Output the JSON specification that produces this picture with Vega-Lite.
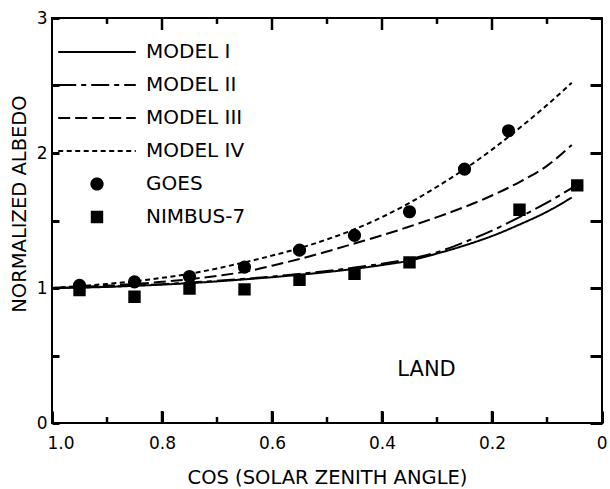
{
  "$schema": "https://vega.github.io/schema/vega-lite/v6.json",
  "width": 550,
  "height": 405,
  "autosize": {"type": "none"},
  "padding": {"left": 52, "top": 18, "right": 8, "bottom": 66},
  "background": "white",
  "config": {
    "view": {"stroke": "black", "strokeWidth": 2},
    "font": "DejaVu Sans",
    "axis": {
      "grid": false,
      "domain": false,
      "ticks": true,
      "tickColor": "#000000",
      "tickOpacity": 1,
      "tickWidth": 3,
      "zindex": 2,
      "labelColor": "black",
      "titleColor": "black",
      "labelFont": "DejaVu Sans",
      "titleFont": "DejaVu Sans",
      "labelFontSize": 17,
      "titleFontSize": 19.5,
      "titleFontWeight": "normal",
      "labelOverlap": false
    }
  },
  "datasets": {
    "models": [
      {"series": "MODEL I", "x": 1.0, "y": 1.0},
      {"series": "MODEL I", "x": 0.95, "y": 1.003},
      {"series": "MODEL I", "x": 0.9, "y": 1.008},
      {"series": "MODEL I", "x": 0.85, "y": 1.016},
      {"series": "MODEL I", "x": 0.8, "y": 1.025},
      {"series": "MODEL I", "x": 0.75, "y": 1.036},
      {"series": "MODEL I", "x": 0.7, "y": 1.049},
      {"series": "MODEL I", "x": 0.65, "y": 1.064},
      {"series": "MODEL I", "x": 0.6, "y": 1.08},
      {"series": "MODEL I", "x": 0.55, "y": 1.098},
      {"series": "MODEL I", "x": 0.5, "y": 1.118},
      {"series": "MODEL I", "x": 0.45, "y": 1.142},
      {"series": "MODEL I", "x": 0.4, "y": 1.17},
      {"series": "MODEL I", "x": 0.35, "y": 1.203},
      {"series": "MODEL I", "x": 0.3, "y": 1.255},
      {"series": "MODEL I", "x": 0.25, "y": 1.315},
      {"series": "MODEL I", "x": 0.2, "y": 1.385},
      {"series": "MODEL I", "x": 0.15, "y": 1.47},
      {"series": "MODEL I", "x": 0.1, "y": 1.565},
      {"series": "MODEL I", "x": 0.055, "y": 1.67},
      {"series": "MODEL II", "x": 1.0, "y": 1.0},
      {"series": "MODEL II", "x": 0.95, "y": 1.004},
      {"series": "MODEL II", "x": 0.9, "y": 1.01},
      {"series": "MODEL II", "x": 0.85, "y": 1.018},
      {"series": "MODEL II", "x": 0.8, "y": 1.028},
      {"series": "MODEL II", "x": 0.75, "y": 1.04},
      {"series": "MODEL II", "x": 0.7, "y": 1.053},
      {"series": "MODEL II", "x": 0.65, "y": 1.068},
      {"series": "MODEL II", "x": 0.6, "y": 1.085},
      {"series": "MODEL II", "x": 0.55, "y": 1.104},
      {"series": "MODEL II", "x": 0.5, "y": 1.126},
      {"series": "MODEL II", "x": 0.45, "y": 1.151},
      {"series": "MODEL II", "x": 0.4, "y": 1.18},
      {"series": "MODEL II", "x": 0.35, "y": 1.215},
      {"series": "MODEL II", "x": 0.3, "y": 1.265},
      {"series": "MODEL II", "x": 0.25, "y": 1.34},
      {"series": "MODEL II", "x": 0.2, "y": 1.425},
      {"series": "MODEL II", "x": 0.15, "y": 1.525},
      {"series": "MODEL II", "x": 0.1, "y": 1.632},
      {"series": "MODEL II", "x": 0.055, "y": 1.74},
      {"series": "MODEL III", "x": 1.0, "y": 1.0},
      {"series": "MODEL III", "x": 0.95, "y": 1.008},
      {"series": "MODEL III", "x": 0.9, "y": 1.018},
      {"series": "MODEL III", "x": 0.85, "y": 1.03},
      {"series": "MODEL III", "x": 0.8, "y": 1.046},
      {"series": "MODEL III", "x": 0.75, "y": 1.065},
      {"series": "MODEL III", "x": 0.7, "y": 1.09},
      {"series": "MODEL III", "x": 0.65, "y": 1.12},
      {"series": "MODEL III", "x": 0.6, "y": 1.165},
      {"series": "MODEL III", "x": 0.55, "y": 1.215},
      {"series": "MODEL III", "x": 0.5, "y": 1.27},
      {"series": "MODEL III", "x": 0.45, "y": 1.33},
      {"series": "MODEL III", "x": 0.4, "y": 1.39},
      {"series": "MODEL III", "x": 0.35, "y": 1.455},
      {"series": "MODEL III", "x": 0.3, "y": 1.525},
      {"series": "MODEL III", "x": 0.25, "y": 1.6},
      {"series": "MODEL III", "x": 0.2, "y": 1.685},
      {"series": "MODEL III", "x": 0.15, "y": 1.785},
      {"series": "MODEL III", "x": 0.1, "y": 1.905},
      {"series": "MODEL III", "x": 0.055, "y": 2.06},
      {"series": "MODEL IV", "x": 1.0, "y": 1.0},
      {"series": "MODEL IV", "x": 0.95, "y": 1.014},
      {"series": "MODEL IV", "x": 0.9, "y": 1.03},
      {"series": "MODEL IV", "x": 0.85, "y": 1.05},
      {"series": "MODEL IV", "x": 0.8, "y": 1.075},
      {"series": "MODEL IV", "x": 0.75, "y": 1.105},
      {"series": "MODEL IV", "x": 0.7, "y": 1.145},
      {"series": "MODEL IV", "x": 0.65, "y": 1.19},
      {"series": "MODEL IV", "x": 0.6, "y": 1.24},
      {"series": "MODEL IV", "x": 0.55, "y": 1.295},
      {"series": "MODEL IV", "x": 0.5, "y": 1.36},
      {"series": "MODEL IV", "x": 0.45, "y": 1.435},
      {"series": "MODEL IV", "x": 0.4, "y": 1.525},
      {"series": "MODEL IV", "x": 0.35, "y": 1.63},
      {"series": "MODEL IV", "x": 0.3, "y": 1.75},
      {"series": "MODEL IV", "x": 0.25, "y": 1.88},
      {"series": "MODEL IV", "x": 0.2, "y": 2.025},
      {"series": "MODEL IV", "x": 0.15, "y": 2.185},
      {"series": "MODEL IV", "x": 0.1, "y": 2.355},
      {"series": "MODEL IV", "x": 0.055, "y": 2.52}
    ],
    "obs": [
      {"series": "GOES", "x": 0.95, "y": 1.02},
      {"series": "GOES", "x": 0.85, "y": 1.045},
      {"series": "GOES", "x": 0.75, "y": 1.085},
      {"series": "GOES", "x": 0.65, "y": 1.155},
      {"series": "GOES", "x": 0.55, "y": 1.28},
      {"series": "GOES", "x": 0.45, "y": 1.39},
      {"series": "GOES", "x": 0.35, "y": 1.565},
      {"series": "GOES", "x": 0.25, "y": 1.88},
      {"series": "GOES", "x": 0.17, "y": 2.165},
      {"series": "NIMBUS-7", "x": 0.95, "y": 0.985},
      {"series": "NIMBUS-7", "x": 0.85, "y": 0.935},
      {"series": "NIMBUS-7", "x": 0.75, "y": 0.995},
      {"series": "NIMBUS-7", "x": 0.65, "y": 0.99},
      {"series": "NIMBUS-7", "x": 0.55, "y": 1.06},
      {"series": "NIMBUS-7", "x": 0.45, "y": 1.105},
      {"series": "NIMBUS-7", "x": 0.35, "y": 1.19},
      {"series": "NIMBUS-7", "x": 0.15, "y": 1.58},
      {"series": "NIMBUS-7", "x": 0.045, "y": 1.76}
    ],
    "xmajor": [
      {"v": 0.8}, {"v": 0.6}, {"v": 0.4}, {"v": 0.2}
    ],
    "xminor": [
      {"v": 0.9}, {"v": 0.7}, {"v": 0.5}, {"v": 0.3}, {"v": 0.1}
    ]
  },
  "layer": [
    {
      "data": {"name": "models"},
      "mark": {"type": "line", "color": "black", "strokeWidth": 2, "interpolate": "monotone", "clip": true},
      "encoding": {
        "x": {
          "field": "x", "type": "quantitative",
          "scale": {"domain": [0, 1], "reverse": true, "nice": false, "zero": false},
          "axis": {
            "orient": "bottom",
            "tickSize": -12,
            "values": [1, 0.8, 0.6, 0.4, 0.2, 0],
            "labelExpr": "datum.value === 0 ? '0' : format(datum.value, '.1f')",
            "labelPadding": 24,
            "labelBaseline": "top",
            "labelFlush": true,
            "labelFlushOffset": 5,
            "title": "COS (SOLAR ZENITH ANGLE)",
            "titleY": 60,
            "titleBaseline": "alphabetic"
          }
        },
        "y": {
          "field": "y", "type": "quantitative",
          "scale": {"domain": [0, 3], "nice": false},
          "axis": {
            "orient": "left",
            "tickSize": -7,
            "values": [0, 0.5, 1, 1.5, 2, 2.5, 3],
            "labelExpr": "datum.value % 1 === 0 ? format(datum.value, 'd') : ''",
            "labelPadding": 12,
            "labelFlush": false,
            "title": "NORMALIZED ALBEDO",
            "titleX": -27,
            "titleY": 185.5,
            "titleAngle": 270,
            "titleAlign": "center",
            "titleBaseline": "alphabetic"
          }
        },
        "strokeDash": {
          "field": "series", "type": "nominal",
          "scale": {
            "domain": ["MODEL I", "MODEL II", "MODEL III", "MODEL IV", "GOES", "NIMBUS-7"],
            "range": [[1, 0], [18, 5, 5, 5], [12, 5], [5, 3.5], [1, 0], [1, 0]]
          },
          "legend": {
            "title": null, "orient": "none", "legendX": 4, "legendY": 24, "padding": 0,
            "clipHeight": 20, "rowPadding": 13, "symbolSize": 6400, "symbolOffset": 0,
            "symbolStrokeWidth": 2, "symbolStrokeColor": "black", "symbolFillColor": "black", "symbolOpacity": 1,
            "labelFont": "DejaVu Sans", "labelFontSize": 20, "labelColor": "black", "labelOffset": 8, "labelLimit": 300,
            "encode": {"symbols": {"update": {"fill": {"value": "black"}, "stroke": {"value": "black"}, "strokeWidth": {"value": 2}, "opacity": {"value": 1}}}}
          }
        }
      }
    },
    {
      "data": {"name": "obs"},
      "mark": {"type": "point", "filled": true, "color": "black", "stroke": "black", "strokeWidth": 2, "size": 6400, "opacity": 1},
      "encoding": {
        "x": {"field": "x", "type": "quantitative", "axis": null},
        "y": {
          "field": "y", "type": "quantitative",
          "axis": {
            "orient": "right",
            "tickSize": -12,
            "values": [0, 0.5, 1, 1.5, 2, 2.5, 3],
            "labels": false,
            "title": null
          }
        },
        "shape": {
          "field": "series", "type": "nominal",
          "scale": {
            "domain": ["MODEL I", "MODEL II", "MODEL III", "MODEL IV", "GOES", "NIMBUS-7"],
            "range": [
              "M-0.97,0H0.97",
              "M-0.97,0H0.97",
              "M-0.97,0H0.97",
              "M-0.97,0H0.97",
              "M-0.14,0A0.14,0.14,0,1,1,0.14,0A0.14,0.14,0,1,1,-0.14,0Z",
              "M-0.13,-0.13H0.13V0.13H-0.13Z"
            ]
          },
          "legend": {
            "title": null, "orient": "none", "legendX": 4, "legendY": 24, "padding": 0,
            "clipHeight": 20, "rowPadding": 13, "symbolSize": 6400, "symbolOffset": 0,
            "symbolStrokeWidth": 2, "symbolStrokeColor": "black", "symbolFillColor": "black", "symbolOpacity": 1,
            "labelFont": "DejaVu Sans", "labelFontSize": 20, "labelColor": "black", "labelOffset": 8, "labelLimit": 300,
            "encode": {"symbols": {"update": {"fill": {"value": "black"}, "stroke": {"value": "black"}, "strokeWidth": {"value": 2}, "opacity": {"value": 1}}}}
          }
        }
      }
    },
    {
      "data": {"name": "xmajor"},
      "mark": {"type": "rule", "color": "black", "strokeWidth": 2.5},
      "encoding": {
        "x": {"field": "v", "type": "quantitative", "axis": null},
        "y": {"datum": 0, "type": "quantitative", "axis": null},
        "y2": {"datum": 0.089}
      }
    },
    {
      "data": {"name": "xmajor"},
      "mark": {"type": "rule", "color": "black", "strokeWidth": 2.5},
      "encoding": {
        "x": {"field": "v", "type": "quantitative", "axis": null},
        "y": {"datum": 2.911, "type": "quantitative", "axis": null},
        "y2": {"datum": 3}
      }
    },
    {
      "data": {"name": "xminor"},
      "mark": {"type": "rule", "color": "black", "strokeWidth": 2.5},
      "encoding": {
        "x": {"field": "v", "type": "quantitative", "axis": null},
        "y": {"datum": 0, "type": "quantitative", "axis": null},
        "y2": {"datum": 0.044}
      }
    },
    {
      "data": {"name": "xminor"},
      "mark": {"type": "rule", "color": "black", "strokeWidth": 2.5},
      "encoding": {
        "x": {"field": "v", "type": "quantitative", "axis": null},
        "y": {"datum": 2.956, "type": "quantitative", "axis": null},
        "y2": {"datum": 3}
      }
    },
    {
      "data": {"values": [{}]},
      "mark": {"type": "text", "text": "LAND", "font": "DejaVu Sans", "fontSize": 21, "color": "black", "align": "center", "baseline": "middle"},
      "encoding": {
        "x": {"datum": 0.319, "type": "quantitative", "axis": null},
        "y": {"datum": 0.396, "type": "quantitative", "axis": null}
      }
    }
  ],
  "resolve": {"axis": {"x": "independent", "y": "independent"}}
}
